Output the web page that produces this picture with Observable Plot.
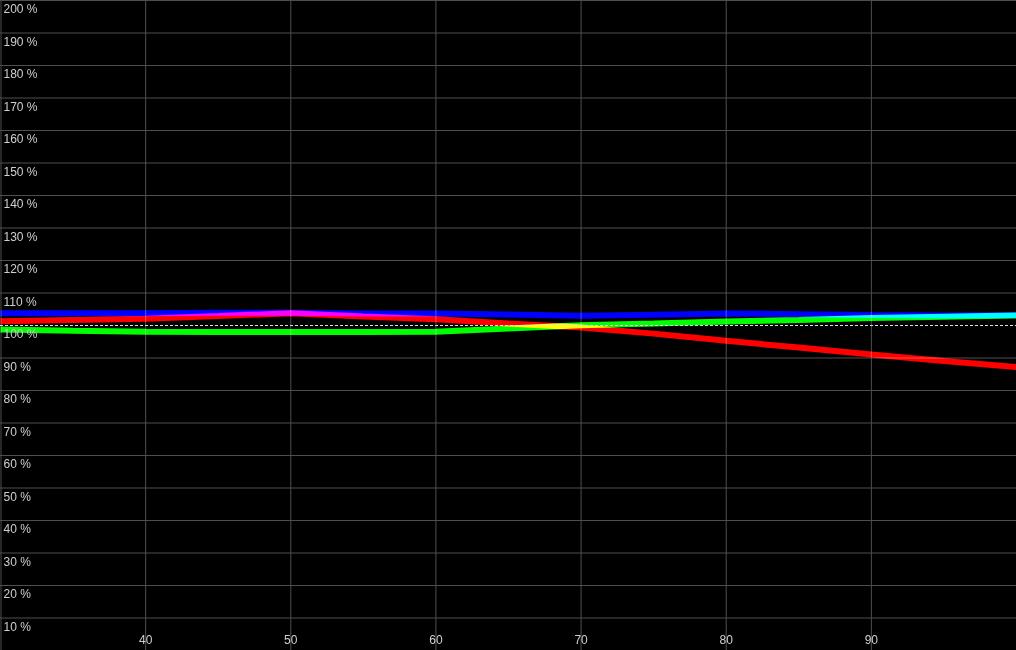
<!DOCTYPE html>
<html>
<head>
<meta charset="utf-8">
<script src="https://cdn.jsdelivr.net/npm/d3@7"></script>
<script src="https://cdn.jsdelivr.net/npm/@observablehq/plot@0.6"></script>
<style>
  html, body { margin: 0; padding: 0; background: #000; overflow: hidden; }
  #chart svg { display: block; }
</style>
</head>
<body>
<div id="chart"></div>
<script>
const xs = [30, 35, 40, 45, 50, 55, 60, 65, 70, 75, 80, 85, 90, 95, 100];
const redValues   = [101.3, 101.7, 102.1, 102.9, 103.8, 102.8, 101.9, 100.6, 99.4, 97.5, 95.3, 93.2, 91.1, 89.1, 87.2];
const greenValues = [98.8, 98.4, 98.1, 98.0, 98.0, 98.0, 98.1, 99.1, 100.1, 100.6, 101.2, 101.7, 102.3, 102.7, 103.1];
const blueValues  = [103.8, 103.8, 103.8, 103.9, 103.9, 103.7, 103.7, 103.4, 103.0, 103.3, 103.7, 103.5, 103.2, 103.1, 103.2];
const xTicks = [40, 50, 60, 70, 80, 90];
const yTicks = [10, 20, 30, 40, 50, 60, 70, 80, 90, 100, 110, 120, 130, 140, 150, 160, 170, 180, 190, 200];
const refLevel = 100;

const series = [
  {name: "Red", color: "#ff0000", values: redValues},
  {name: "Green", color: "#00ff00", values: greenValues},
  {name: "Blue", color: "#0000ff", values: blueValues}
];
const rows = series.flatMap(s => xs.map((x, i) => ({series: s.name, color: s.color, x, y: s.values[i]})));

const chart = Plot.plot({
  width: 1016,
  height: 650,
  marginTop: 0, marginRight: 0, marginBottom: 0, marginLeft: 0,
  style: {background: "#000", fontFamily: "Liberation Sans, Arial, sans-serif", fontSize: "12px"},
  x: {domain: [30, 100], axis: null},
  y: {domain: [0, 200], axis: null},
  marks: [
    Plot.ruleY(yTicks.filter(d => d !== refLevel), {y: d => d, stroke: "#4e4e4e", strokeWidth: 1}),
    Plot.ruleX(xTicks, {x: d => d, stroke: "#4e4e4e", strokeWidth: 1}),
    Plot.ruleX([30], {x: d => d, stroke: "#4e4e4e", strokeWidth: 1, dx: 0.5}),
    Plot.line(rows, {
      x: "x", y: "y", z: "series", stroke: "color",
      strokeWidth: 6, strokeLinejoin: "miter", strokeLinecap: "butt",
      mixBlendMode: "screen", curve: "linear"
    }),
    Plot.ruleY([refLevel], {y: d => d, stroke: "#e0e0e0", strokeWidth: 1, strokeDasharray: "3,2"}),
    Plot.text(yTicks, {
      x: 30, y: d => d, text: d => `${d} %`,
      textAnchor: "start", dx: 3, dy: 9, fill: "#cfcfcf"
    }),
    Plot.text(xTicks, {
      x: d => d, y: 0, text: d => `${d}`,
      textAnchor: "middle", dy: -10, fill: "#cfcfcf"
    })
  ]
});
document.getElementById("chart").appendChild(chart);
</script>
</body>
</html>
